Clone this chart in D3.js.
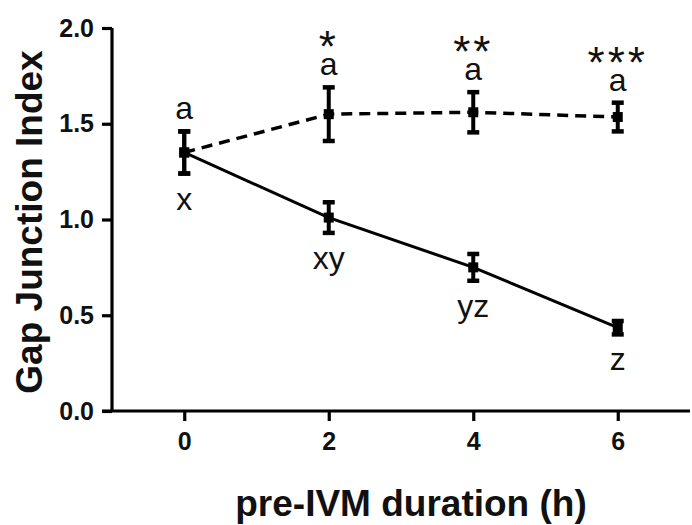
<!DOCTYPE html>
<html>
<head>
<meta charset="utf-8">
<script src="https://cdn.jsdelivr.net/npm/d3@7"></script>
<style>
  html, body { margin: 0; padding: 0; background: #fff; }
  svg { display: block; font-family: "Liberation Sans", Arial, Helvetica, sans-serif; }
</style>
</head>
<body>
<svg id="chart" width="692" height="525"></svg>
<script>
// ---- Data ----
const hours = [0, 2, 4, 6];
const xTicks = [0, 2, 4, 6];
const yTicks = [0.0, 0.5, 1.0, 1.5, 2.0];

// dashed series (upper)
const dashedMean = [1.35, 1.55, 1.56, 1.535];
const dashedErr  = [0.11, 0.14, 0.105, 0.075];
const dashedLetters = ["a", "a", "a", "a"];
const dashedStars = ["", "*", "**", "***"];

// solid series (lower)
const solidMean = [1.35, 1.01, 0.75, 0.435];
const solidErr  = [0.11, 0.08, 0.07, 0.035];
const solidLetters = ["x", "xy", "yz", "z"];

const xTitle = "pre-IVM duration (h)";
const yTitle = "Gap Junction Index";

// ---- Chart ----
const svg = d3.select("#chart");
const x = d3.scaleLinear().domain([-1, 7]).range([112, 690]);
const y = d3.scaleLinear().domain([0, 2]).range([411, 28]);

const dashed = hours.map((h, i) => ({h, m: dashedMean[i], e: dashedErr[i], lab: dashedLetters[i], star: dashedStars[i]}));
const solid = hours.map((h, i) => ({h, m: solidMean[i], e: solidErr[i], lab: solidLetters[i]}));

// axes
const yAxis = d3.axisLeft(y).tickValues(yTicks).tickFormat(d3.format(".1f")).tickSize(10).tickPadding(8);
const gy = svg.append("g").attr("transform", `translate(${x(-1)},0)`).call(yAxis);
const xAxis = d3.axisBottom(x).tickValues(xTicks).tickFormat(d3.format("d")).tickSize(10).tickPadding(11);
const gx = svg.append("g").attr("transform", `translate(0,${y(0)})`).call(xAxis);

[gx, gy].forEach(g => {
  g.attr("font-size", 25);
  g.select(".domain").attr("stroke", "#000").attr("stroke-width", 3.2);
  g.selectAll(".tick line").attr("stroke", "#000").attr("stroke-width", 3.2);
  g.selectAll(".tick text").attr("fill", "#111").attr("font-size", 25).attr("font-weight", "bold")
    .attr("font-family", "'Liberation Sans', Arial, sans-serif");
});
gy.select(".domain").attr("d", `M0,${y(2)}V${y(0)}`);
gx.select(".domain").attr("d", `M${x(-1) - 10},0H${x(7)}`);

// lines
const line = d3.line().x(d => x(d.h)).y(d => y(d.m));
svg.append("path").datum(solid).attr("d", line)
  .attr("fill", "none").attr("stroke", "#000").attr("stroke-width", 3);
svg.append("path").datum(dashed).attr("d", line)
  .attr("fill", "none").attr("stroke", "#000").attr("stroke-width", 3.5).attr("stroke-dasharray", "11,7");

// error bars + markers
function drawPoints(data) {
  const g = svg.append("g");
  const pts = g.selectAll("g").data(data).join("g");
  pts.append("line")
    .attr("x1", d => x(d.h)).attr("x2", d => x(d.h))
    .attr("y1", d => y(d.m + d.e)).attr("y2", d => y(d.m - d.e))
    .attr("stroke", "#000").attr("stroke-width", 4);
  pts.append("line")
    .attr("x1", d => x(d.h) - 6).attr("x2", d => x(d.h) + 6)
    .attr("y1", d => y(d.m + d.e)).attr("y2", d => y(d.m + d.e))
    .attr("stroke", "#000").attr("stroke-width", 4.5);
  pts.append("line")
    .attr("x1", d => x(d.h) - 6).attr("x2", d => x(d.h) + 6)
    .attr("y1", d => y(d.m - d.e)).attr("y2", d => y(d.m - d.e))
    .attr("stroke", "#000").attr("stroke-width", 4.5);
  pts.append("rect")
    .attr("x", d => x(d.h) - 5).attr("y", d => y(d.m) - 5)
    .attr("width", 10).attr("height", 10).attr("fill", "#000");
}
drawPoints(solid);
drawPoints(dashed);

// stars + letters above dashed (one stacked label per point)
const upper = svg.append("g").selectAll("text").data(dashed).join("text")
  .attr("text-anchor", "middle").attr("fill", "#111")
  .attr("x", d => x(d.h)).attr("y", d => y(d.m + d.e) - 12);
upper.each(function(d) {
  const t = d3.select(this);
  if (d.star) {
    t.append("tspan").attr("x", x(d.h)).attr("y", y(d.m + d.e) - 12 - 13)
      .attr("font-size", 44).attr("letter-spacing", 3).text(d.star);
  }
  t.append("tspan").attr("x", x(d.h)).attr("y", y(d.m + d.e) - 12)
    .attr("font-size", 32).text(d.lab);
});

// letters below solid
svg.append("g").selectAll("text").data(solid).join("text")
  .attr("x", d => x(d.h)).attr("y", d => y(d.m - d.e) + 36)
  .attr("text-anchor", "middle").attr("font-size", 32).attr("fill", "#111")
  .text(d => d.lab);

// titles
svg.append("text").attr("x", 411).attr("y", 516)
  .attr("text-anchor", "middle").attr("font-size", 37).attr("font-weight", "bold").attr("fill", "#111")
  .text(xTitle);
svg.append("text").attr("transform", "translate(42,222) rotate(-90)")
  .attr("text-anchor", "middle").attr("font-size", 37).attr("font-weight", "bold").attr("fill", "#111")
  .text(yTitle);
</script>
</body>
</html>
